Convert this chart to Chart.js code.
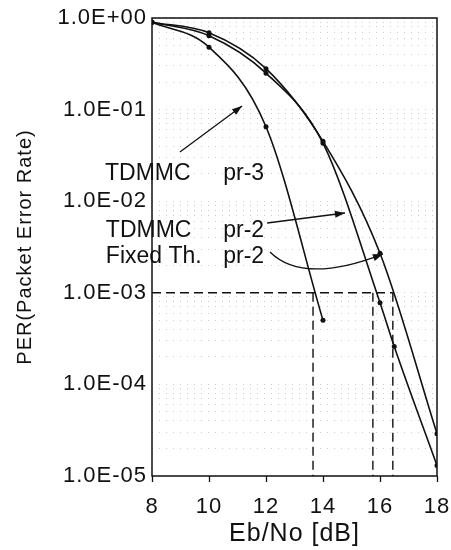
<!DOCTYPE html>
<html>
<head>
<meta charset="utf-8">
<script src="https://cdn.jsdelivr.net/npm/chart.js@4.4.0/dist/chart.umd.min.js"></script>
<style>
  html, body { margin: 0; padding: 0; background: #fff; }
  #wrap { width: 451px; height: 550px; }
</style>
</head>
<body>
<div id="wrap"><canvas id="perChart"></canvas></div>
<script>
// Eb/No (dB) and packet error rate
const ebNoPr3   = [8, 10, 12, 14];
const perPr3    = [0.9, 0.48, 0.065, 5.0e-4];

const ebNoPr2   = [8, 10, 12, 14, 16, 16.5, 18];
const perPr2    = [0.9, 0.64, 0.25, 0.043, 7.8e-4, 2.6e-4, 1.3e-5];

const ebNoFixed = [8, 10, 12, 14, 16, 18];
const perFixed  = [0.9, 0.69, 0.28, 0.045, 2.7e-3, 2.9e-5];

// required Eb/No at PER = 1E-03 (dashed guides)
const targetPer  = 1e-3;
const targetEbNo = [13.65, 15.75, 16.45];

const xTicks      = [8, 10, 12, 14, 16, 18];
const yTicks      = [1, 1e-1, 1e-2, 1e-3, 1e-4, 1e-5];
const yTickLabels = ['1.0E+00', '1.0E-01', '1.0E-02', '1.0E-03', '1.0E-04', '1.0E-05'];

const FONT = "'Liberation Sans', Arial, sans-serif";
const INK = '#111';

// text labels and arrows, placed in data units (dB, PER)
const notes = [
    { text: 'TDMMC',     x: 6.35, y: 0.017 },
    { text: 'pr-3',      x: 10.5, y: 0.017 },
    { text: 'TDMMC',     x: 6.38, y: 0.0041 },
    { text: 'pr-2',      x: 10.5, y: 0.0041 },
    { text: 'Fixed Th.', x: 6.38, y: 0.0021 },
    { text: 'pr-2',      x: 10.5, y: 0.0021 },
];
const arrows = [
    { from: [8.98, 0.0344],  to: [11.16, 0.1095] },
    { from: [12.04, 0.00578], to: [14.77, 0.00743] },
    { from: [12.14, 0.00279], ctrl: [13.3, 0.00122], to: [16.1, 0.00265] },
];

const pts = (xs, ys) => xs.map((x, i) => ({ x, y: ys[i] }));

// minor log grid positions (2..9 x 10^n)
const gridValues = [];
for (let e = -5; e <= 0; e++) {
    for (let m = 1; m <= 9; m++) {
        const v = m * Math.pow(10, e);
        if (v <= 1.0000001) gridValues.push(v);
    }
}

const curve = (label, data) => ({
    label, data,
    borderColor: INK,
    backgroundColor: INK,
    borderWidth: 1.6,
    pointRadius: 2.5,
    pointBorderWidth: 0,
    cubicInterpolationMode: 'monotone',
    fill: false,
});

const guide = (data) => ({
    data,
    borderColor: INK,
    borderWidth: 1.4,
    borderDash: [9, 5],
    pointRadius: 0,
    fill: false,
});

const datasets = [
    curve('TDMMC pr-3', pts(ebNoPr3, perPr3)),
    curve('TDMMC pr-2', pts(ebNoPr2, perPr2)),
    curve('Fixed Th. pr-2', pts(ebNoFixed, perFixed)),
    guide([{ x: xTicks[0], y: targetPer }, { x: Math.max(...targetEbNo), y: targetPer }]),
    ...targetEbNo.map(x => guide([{ x, y: targetPer }, { x, y: yTicks[yTicks.length - 1] }])),
];

const decor = {
    id: 'decor',
    beforeDraw(chart) {
        chart.ctx.letterSpacing = '1px';
    },
    afterDraw(chart) {
        const { ctx, chartArea: a, scales: { x, y } } = chart;
        ctx.save();
        ctx.strokeStyle = INK;
        ctx.lineWidth = 1.5;
        ctx.strokeRect(a.left, a.top, a.right - a.left, a.bottom - a.top);

        ctx.fillStyle = INK;
        ctx.font = '23px ' + FONT;
        ctx.letterSpacing = '0px';
        ctx.textBaseline = 'alphabetic';
        notes.forEach(n => ctx.fillText(n.text, x.getPixelForValue(n.x), y.getPixelForValue(n.y)));

        ctx.lineWidth = 1.3;
        arrows.forEach(ar => {
            const p0 = [x.getPixelForValue(ar.from[0]), y.getPixelForValue(ar.from[1])];
            const p1 = [x.getPixelForValue(ar.to[0]), y.getPixelForValue(ar.to[1])];
            ctx.beginPath();
            ctx.moveTo(p0[0], p0[1]);
            let dir;
            if (ar.ctrl) {
                const c = [x.getPixelForValue(ar.ctrl[0]), y.getPixelForValue(ar.ctrl[1])];
                ctx.quadraticCurveTo(c[0], c[1], p1[0], p1[1]);
                dir = Math.atan2(p1[1] - c[1], p1[0] - c[0]);
            } else {
                ctx.lineTo(p1[0], p1[1]);
                dir = Math.atan2(p1[1] - p0[1], p1[0] - p0[0]);
            }
            ctx.stroke();
            const L = 10, W = 3.5;
            ctx.beginPath();
            ctx.moveTo(p1[0], p1[1]);
            ctx.lineTo(p1[0] - L * Math.cos(dir) + W * Math.sin(dir), p1[1] - L * Math.sin(dir) - W * Math.cos(dir));
            ctx.lineTo(p1[0] - L * Math.cos(dir) - W * Math.sin(dir), p1[1] - L * Math.sin(dir) + W * Math.cos(dir));
            ctx.closePath();
            ctx.fill();
        });
        ctx.restore();
    },
};

new Chart(document.getElementById('perChart').getContext('2d'), {
    type: 'line',
    data: { datasets },
    plugins: [decor],
    options: {
        responsive: true,
        maintainAspectRatio: false,
        animation: false,
        layout: { padding: { left: 0, right: 14, top: 18, bottom: 0 } },
        plugins: {
            legend: { display: false },
            tooltip: { enabled: false },
        },
        scales: {
            x: {
                type: 'linear',
                min: 8,
                max: 18,
                afterBuildTicks: s => { s.ticks = xTicks.map(v => ({ value: v })); },
                afterFit: s => { s.height = 74; s.paddingLeft = 0; s.paddingRight = 0; },
                grid: { drawOnChartArea: false, tickLength: 6, tickColor: INK, tickWidth: 1.3 },
                border: { display: false },
                ticks: {
                    color: INK,
                    padding: 12,
                    font: { family: FONT, size: 22 },
                    maxRotation: 0,
                },
                title: {
                    display: true,
                    text: 'Eb/No [dB]',
                    color: INK,
                    font: { family: FONT, size: 25 },
                    padding: { top: 0, bottom: 1 },
                },
            },
            y: {
                type: 'logarithmic',
                min: 1e-5,
                max: 1,
                afterBuildTicks: s => { s.ticks = gridValues.map(v => ({ value: v })); },
                afterFit: s => { s.width = 152; s.paddingTop = 0; s.paddingBottom = 0; },
                grid: {
                    drawTicks: false,
                    color: 'rgba(0,0,0,0.2)',
                    lineWidth: 1,
                },
                border: { display: false, dash: [1, 6] },
                ticks: {
                    autoSkip: false,
                    color: INK,
                    padding: 5,
                    font: { family: FONT, size: 22 },
                    callback: v => {
                        const i = yTicks.findIndex(t => Math.abs(Math.log10(t) - Math.log10(v)) < 1e-6);
                        return i >= 0 ? yTickLabels[i] : '';
                    },
                },
                title: {
                    display: true,
                    text: 'PER(Packet Error Rate)',
                    color: INK,
                    font: { family: FONT, size: 20 },
                    padding: { top: 13, bottom: 0 },
                },
            },
        },
    },
});
</script>
</body>
</html>
